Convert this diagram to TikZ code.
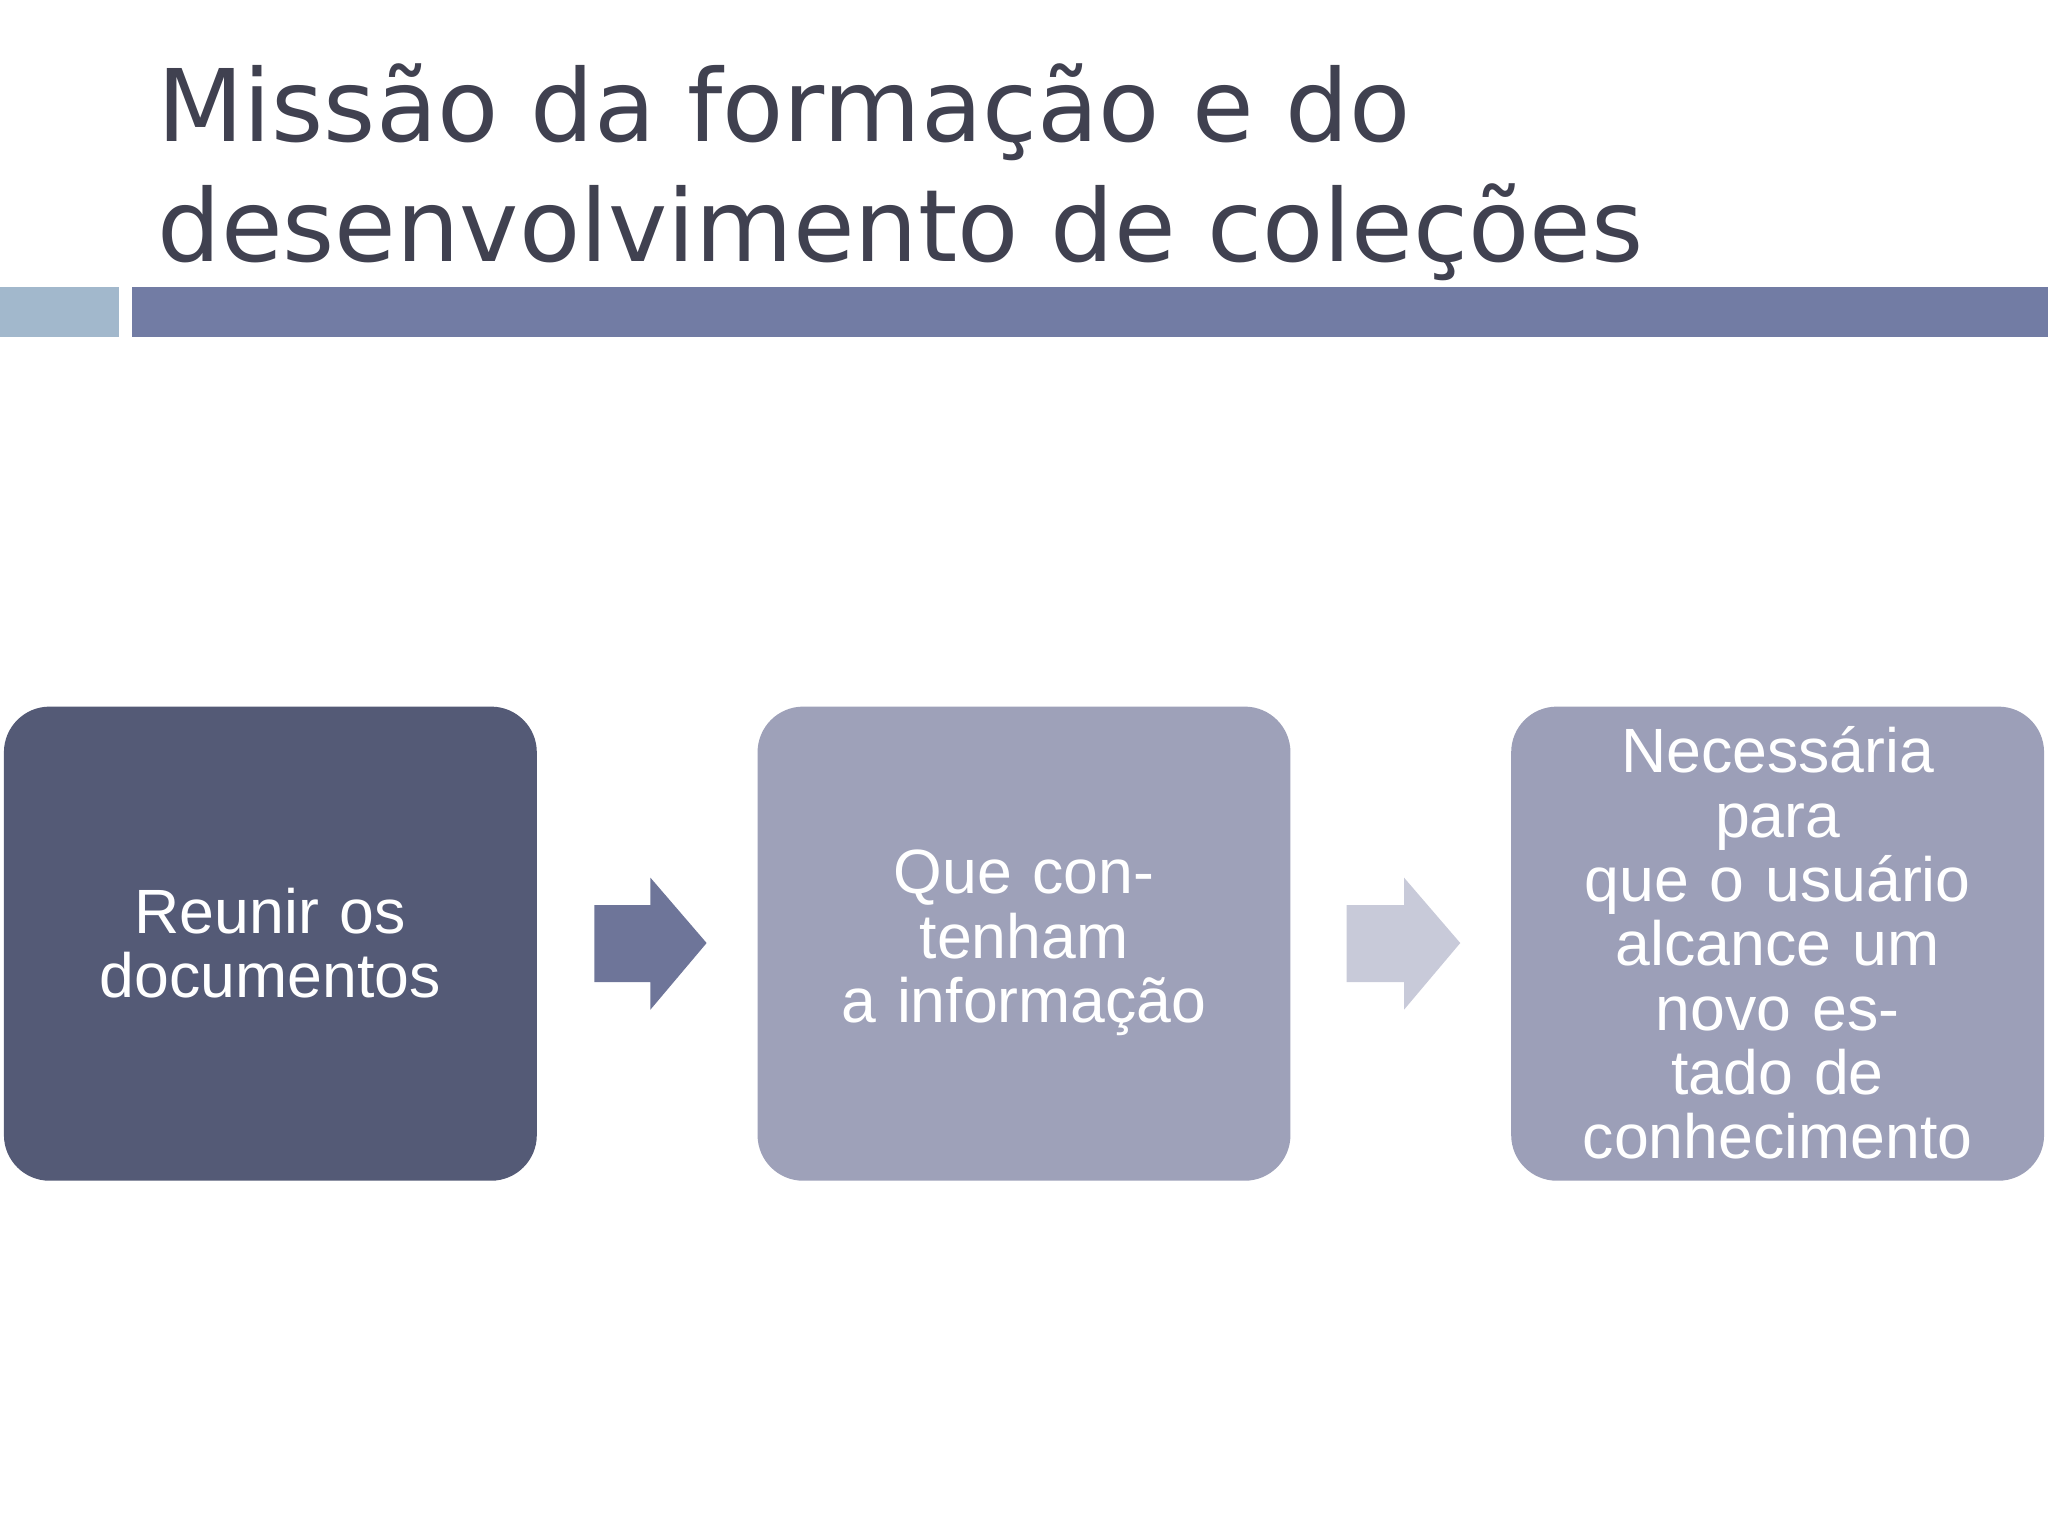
\documentclass[tikz,border=0pt]{standalone}
\usepackage{fontspec}
\setmainfont{Liberation Sans}
\newfontfamily\titlefont{DejaVu Sans}
\definecolor{titlec}{HTML}{404150}
\definecolor{barlight}{HTML}{A2B8CC}
\definecolor{bardark}{HTML}{727CA4}
\definecolor{boxa}{HTML}{545A76}
\definecolor{boxb}{HTML}{9EA1B9}
\definecolor{boxc}{HTML}{9C9FB8}
\definecolor{arra}{HTML}{6E7599}
\definecolor{arrb}{HTML}{C8CAD9}
\begin{document}
\begin{tikzpicture}[x=0.013061cm,y=-0.013061cm,
  stepbox/.style={rounded corners=13pt,inner sep=0pt},
  boxtext/.style={text=white,align=center,font=\fontsize{17.8}{18.3}\selectfont,text width=4.2cm}]
\useasboundingbox (0,0) rectangle (1568,1176);
\fill[white] (0,0) rectangle (1568,1176);
\node[anchor=base west,inner sep=0pt,text=titlec,font=\titlefont\fontsize{28.5}{34}\selectfont] (t1) at (120,108) {Missão da formação e do};
\node[anchor=base west,inner sep=0pt,text=titlec,font=\titlefont\fontsize{28.5}{34}\selectfont] (t2) at (120,200) {desenvolvimento de coleções};
\fill[barlight] (0,220) rectangle (91,258);
\fill[bardark] (101,220) rectangle (1568,258);
\fill[boxa,stepbox] (3,541) rectangle (411,904);
\fill[boxb,stepbox] (580,541) rectangle (988,904);
\fill[boxc,stepbox] (1157,541) rectangle (1565,904);
\node[boxtext] (b1) at (207,722) {Reunir os\\documentos};
\node[boxtext] (b2) at (784,722) {Que contenham\\a informação};
\node[boxtext] (b3) at (1361,722) {Necessária para\\que o usuário\\alcance um\\novo estado de\\conhecimento};
\fill[arra] (455,693) -- (498,693) -- (498,672) -- (541,722) -- (498,773) -- (498,752) -- (455,752) -- cycle;
\fill[arrb] (1031,693) -- (1075,693) -- (1075,672) -- (1118,722) -- (1075,773) -- (1075,752) -- (1031,752) -- cycle;
\end{tikzpicture}
\end{document}
